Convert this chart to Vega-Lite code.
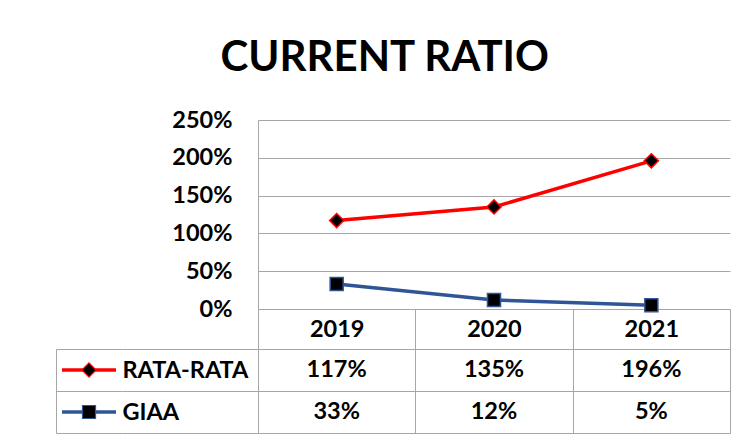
{
  "$schema": "https://vega.github.io/schema/vega-lite/v6.json",
  "background": "white",
  "padding": {"left": 55, "top": 37, "right": 10, "bottom": 5},
  "title": {"text": "CURRENT RATIO", "font": "Lato", "fontSize": 42, "fontWeight": "bold", "color": "black", "anchor": "middle", "dx": -8, "offset": 28},
  "config": {
    "view": {"stroke": null},
    "font": "Lato",
    "axis": {"labelFont": "Lato", "labelFontWeight": "bold", "labelColor": "black", "labelFontSize": 23.5, "domainColor": "#a6a6a6", "gridColor": "#a6a6a6", "tickColor": "#a6a6a6", "domainWidth": 1, "gridWidth": 1, "tickWidth": 1, "title": null}
  },
  "datasets": {
    "ratio": [
      {"year": "2019", "series": "RATA-RATA", "value": 1.17},
      {"year": "2020", "series": "RATA-RATA", "value": 1.35},
      {"year": "2021", "series": "RATA-RATA", "value": 1.96},
      {"year": "2019", "series": "GIAA", "value": 0.33},
      {"year": "2020", "series": "GIAA", "value": 0.12},
      {"year": "2021", "series": "GIAA", "value": 0.05}
    ]
  },
  "columns": 2,
  "bounds": "flush",
  "spacing": {"row": 40, "column": 136},
  "concat": [
    {
      "width": 66, "height": 189,
      "data": {"values": []},
      "mark": "point"
    },
    {
      "width": 472, "height": 189,
      "data": {"name": "ratio"},
      "encoding": {
        "x": {"field": "year", "type": "ordinal", "bandPosition": 0.5,
              "scale": {"type": "band", "paddingInner": 0, "paddingOuter": 0},
              "axis": {"orient": "bottom", "tickBand": "extent", "ticks": true, "tickSize": 40, "labelAngle": 0, "labelBaseline": "middle", "labelPadding": -20, "grid": false, "domain": true}},
        "y": {"field": "value", "type": "quantitative",
              "scale": {"domain": [0, 2.5]},
              "axis": {"values": [0, 0.5, 1, 1.5, 2, 2.5], "format": ".0%", "ticks": false, "tickSize": 0, "labelPadding": 26, "grid": true, "domain": true}}
      },
      "layer": [
        {
          "mark": {"type": "line", "strokeWidth": 3.5},
          "encoding": {
            "color": {"field": "series", "type": "nominal", "scale": {"domain": ["RATA-RATA", "GIAA"], "range": ["#ff0000", "#2f5597"]}, "legend": null}
          }
        },
        {
          "mark": {"type": "point", "filled": true, "fill": "black", "opacity": 1, "strokeWidth": 1.5},
          "encoding": {
            "shape": {"field": "series", "type": "nominal", "scale": {"domain": ["RATA-RATA", "GIAA"], "range": ["diamond", "square"]}, "legend": null},
            "size": {"field": "series", "type": "nominal", "scale": {"domain": ["RATA-RATA", "GIAA"], "range": [200, 170]}, "legend": null},
            "stroke": {"field": "series", "type": "nominal", "scale": {"domain": ["RATA-RATA", "GIAA"], "range": ["#ff0000", "#2f5597"]}, "legend": null}
          }
        }
      ]
    },
    {
      "width": 66, "height": 84,
      "data": {"values": [{"series": "RATA-RATA"}, {"series": "GIAA"}]},
      "encoding": {
        "y": {"field": "series", "type": "nominal", "sort": ["RATA-RATA", "GIAA"], "bandPosition": 0.5,
              "scale": {"type": "band", "paddingInner": 0, "paddingOuter": 0},
              "axis": {"orient": "left", "labels": false, "ticks": false, "domain": true, "grid": true, "tickBand": "extent"}},
        "stroke": {"field": "series", "type": "nominal", "scale": {"domain": ["RATA-RATA", "GIAA"], "range": ["#ff0000", "#2f5597"]}, "legend": null}
      },
      "layer": [
        {
          "mark": {"type": "point", "shape": "stroke", "size": 2916, "strokeWidth": 3.5, "opacity": 1}
        },
        {
          "mark": {"type": "point", "filled": true, "fill": "black", "opacity": 1, "strokeWidth": 1.2},
          "encoding": {
            "shape": {"field": "series", "type": "nominal", "scale": {"domain": ["RATA-RATA", "GIAA"], "range": ["diamond", "square"]}, "legend": null},
            "size": {"field": "series", "type": "nominal", "scale": {"domain": ["RATA-RATA", "GIAA"], "range": [150, 130]}, "legend": null}
          }
        }
      ]
    },
    {
      "width": 472, "height": 84,
      "data": {"name": "ratio"},
      "mark": {"type": "text", "font": "Lato", "fontSize": 23.5, "fontWeight": "bold", "color": "black", "baseline": "middle"},
      "encoding": {
        "x": {"field": "year", "type": "ordinal", "bandPosition": 0.5,
              "scale": {"type": "band", "paddingInner": 0, "paddingOuter": 0},
              "axis": {"labels": false, "ticks": false, "domain": false, "grid": true, "tickBand": "extent"}},
        "y": {"field": "series", "type": "nominal", "sort": ["RATA-RATA", "GIAA"], "bandPosition": 0.5,
              "scale": {"type": "band", "paddingInner": 0, "paddingOuter": 0},
              "axis": {"orient": "left", "grid": true, "tickBand": "extent", "ticks": true, "tickSize": 136, "labelAlign": "left", "labelPadding": 0, "labelBaseline": "middle", "domain": true}},
        "text": {"field": "value", "type": "quantitative", "format": ".0%"}
      }
    }
  ]
}
